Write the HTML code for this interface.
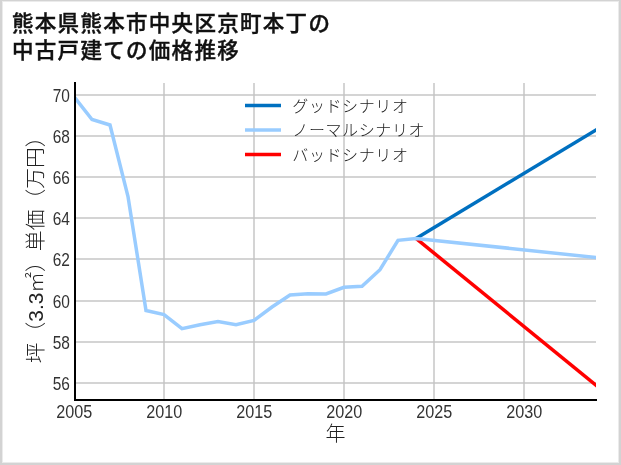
<!DOCTYPE html>
<html lang="ja">
<head>
<meta charset="utf-8">
<title>熊本県熊本市中央区京町本丁の中古戸建ての価格推移</title>
<style>
html,body{margin:0;padding:0;background:#fff;}
body{width:621px;height:465px;overflow:hidden;position:relative;}
.frame{position:absolute;left:0;top:0;width:621px;height:465px;box-sizing:border-box;
  border-style:solid;border-color:#d3d3d3;border-width:1px 2px 2px 2px;box-shadow:inset 0 0 0 1px #ebebeb;}
h1{position:absolute;left:12.3px;top:11.4px;margin:0;font-family:"Liberation Sans","Noto Sans CJK JP",sans-serif;
  font-weight:500;-webkit-text-stroke:0.4px #111;font-size:21.5px;line-height:27px;color:#111;letter-spacing:1.3px;white-space:nowrap;will-change:transform;}
svg{position:absolute;left:0;top:0;will-change:transform;}
.tick{font-family:"Liberation Sans","Noto Sans CJK JP",sans-serif;font-size:18px;fill:#333;}
.leg{font-family:"Liberation Sans","Noto Sans CJK JP",sans-serif;font-size:16px;fill:#222;font-weight:300;letter-spacing:0.6px;}
.lab{font-family:"Liberation Sans","Noto Sans CJK JP",sans-serif;font-size:20px;fill:#222;font-weight:300;}
.ylab{font-size:20.8px;}
</style>
</head>
<body>
<div class="frame"></div>
<h1>熊本県熊本市中央区京町本丁の<br>中古戸建ての価格推移</h1>
<svg width="621" height="465" viewBox="0 0 621 465">
  <!-- grid -->
  <g stroke="#c4c4c4" stroke-opacity="0.72" stroke-width="2" fill="none">
    <line x1="74" y1="95" x2="596" y2="95"/>
    <line x1="74" y1="136" x2="596" y2="136"/>
    <line x1="74" y1="177" x2="596" y2="177"/>
    <line x1="74" y1="218" x2="596" y2="218"/>
    <line x1="74" y1="259" x2="596" y2="259"/>
    <line x1="74" y1="301" x2="596" y2="301"/>
    <line x1="74" y1="342" x2="596" y2="342"/>
    <line x1="74" y1="383" x2="596" y2="383"/>
    <line x1="164" y1="83" x2="164" y2="399"/>
    <line x1="254" y1="83" x2="254" y2="399"/>
    <line x1="344" y1="83" x2="344" y2="399"/>
    <line x1="434" y1="83" x2="434" y2="399"/>
    <line x1="524" y1="83" x2="524" y2="399"/>
  </g>
  <!-- legend handles -->
  <g stroke-width="3.5" fill="none">
    <line x1="245" y1="105.5" x2="281" y2="105.5" stroke="#0070c0"/>
    <line x1="245" y1="130" x2="281" y2="130" stroke="#99ccff"/>
    <line x1="245" y1="154.5" x2="281" y2="154.5" stroke="#ff0000"/>
  </g>
  <text class="leg" x="292.3" y="111.5">グッドシナリオ</text>
  <text class="leg" x="292.3" y="136">ノーマルシナリオ</text>
  <text class="leg" x="292.3" y="160.5">バッドシナリオ</text>
  <!-- data -->
  <defs><clipPath id="ax"><rect x="74" y="82" width="522" height="318"/></clipPath></defs>
  <g clip-path="url(#ax)" fill="none" stroke-width="3.5" stroke-linejoin="miter" stroke-miterlimit="10">
    <polyline stroke="#0070c0" points="416,238.4 606,123.98"/>
    <polyline stroke="#ff0000" points="416,238.4 606,393.36"/>
    <polyline stroke="#99ccff" points="74,96.6 92,119.5 110,125.0 128,196.5 146,310.5 164,314.6 182,328.7 200,324.7 218,321.5 236,324.6 254,320.4 272,307.0 290,295.0 308,293.7 326,293.9 344,287.3 362,286.2 380,269.7 398,240.3 416,238.4 606,258.56"/>
  </g>
  <!-- spines -->
  <rect x="74" y="82" width="2" height="319" fill="#000"/>
  <rect x="74" y="399" width="523" height="2" fill="#000"/>
  <!-- y tick labels -->
  <g class="tick" text-anchor="end">
    <text transform="translate(69.9,101.85) scale(0.86,1)">70</text>
    <text transform="translate(69.9,142.99) scale(0.86,1)">68</text>
    <text transform="translate(69.9,184.14) scale(0.86,1)">66</text>
    <text transform="translate(69.9,225.28) scale(0.86,1)">64</text>
    <text transform="translate(69.9,266.42) scale(0.86,1)">62</text>
    <text transform="translate(69.9,307.56) scale(0.86,1)">60</text>
    <text transform="translate(69.9,348.71) scale(0.86,1)">58</text>
    <text transform="translate(69.9,389.85) scale(0.86,1)">56</text>
  </g>
  <!-- x tick labels -->
  <g class="tick" text-anchor="middle">
    <text transform="translate(74.15,417.9) scale(0.9,1)">2005</text>
    <text transform="translate(164.15,417.9) scale(0.9,1)">2010</text>
    <text transform="translate(254.15,417.9) scale(0.9,1)">2015</text>
    <text transform="translate(344.15,417.9) scale(0.9,1)">2020</text>
    <text transform="translate(434.15,417.9) scale(0.9,1)">2025</text>
    <text transform="translate(524.15,417.9) scale(0.9,1)">2030</text>
  </g>
  <text class="lab" x="335.5" y="441" text-anchor="middle">年</text>
  <text class="lab ylab" transform="translate(43,244.8) rotate(-90)" text-anchor="middle">坪（3.3㎡）単価（万円）</text>
</svg>
</body>
</html>
